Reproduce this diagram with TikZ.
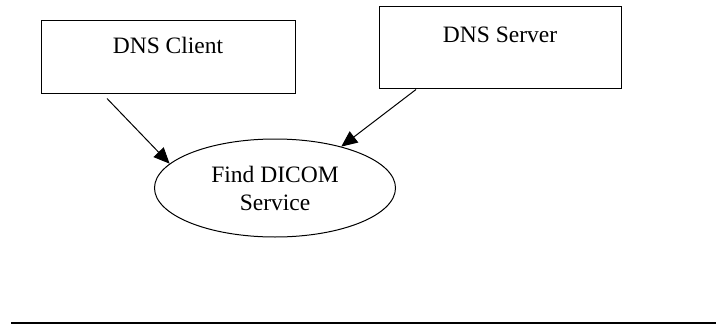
\documentclass[tikz,border=0pt]{standalone}
\usepackage{fontspec}
\setmainfont{Liberation Serif}
\usetikzlibrary{shapes.geometric,arrows.meta}
\begin{document}
\begin{tikzpicture}[x=1pt,y=-1pt,line width=1pt,
		box/.style={draw,rectangle,inner xsep=0pt,inner ysep=17pt,text height=16pt},
		oval/.style={draw,ellipse,inner sep=0pt,minimum width=241pt,minimum height=98pt,align=center},
		arr/.style={-{Triangle[length=16pt,width=14pt]}}]
				\useasboundingbox(0,0)rectangle(716,324);
				\fontsize{23.5}{28}\selectfont
				\node[box,minimum width=254pt,text depth=23pt](client)at(168,56.5){DNS Client};
				\node[box,minimum width=242pt,text height=19pt,text depth=29pt](server)at(500,47){DNS Server};
				\node[oval](dicom)at(275,188){Find DICOM\\Service};
				\draw[arr]([shift={(-61pt,-5pt)}]client.south)--(dicom.167);
				\draw[arr]([shift={(-84pt,-1pt)}]server.south)--(dicom.32);
				\coordinate(rulestart)at(11,323);
				\coordinate(ruleend)at(716,323);
				\draw[line width=2pt](rulestart)--(ruleend);
			\end{tikzpicture}
\end{document}
